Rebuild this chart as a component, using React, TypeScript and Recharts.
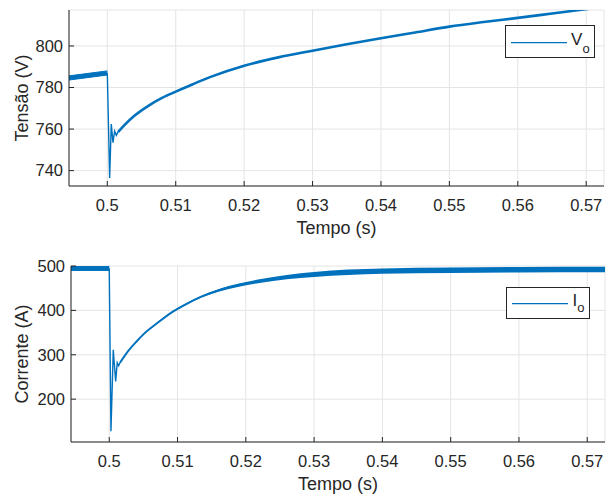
import React from 'react';
import { ComposedChart, Line, Area, XAxis, YAxis, CartesianGrid, Legend } from 'recharts';

const BLUE = '#0072BD';
const AX = '#262626';
const GRID = '#e4e4e4';
const FONT = '"Liberation Sans", Arial, Helvetica, sans-serif';

const timeTicks = [0.5, 0.51, 0.52, 0.53, 0.54, 0.55, 0.56, 0.57];
const timeDomain = [0.4944, 0.5726];
const voltTicks = [740, 760, 780, 800];
const voltDomain = [732.6, 817.3];
const currTicks = [200, 300, 400, 500];
const currDomain = [103.5, 500];

// Output voltage Vo
const voPreTime = [0.4944, 0.5];
const voPreLow = [783.6, 786];
const voPreHigh = [785.6, 788];
const voTransTime = [0.5, 0.50034, 0.50058, 0.50083, 0.50107, 0.50132, 0.50156];
const voTrans = [787, 736.5, 762.4, 753.5, 759, 757, 758.5];
const voRecTime = [0.50156, 0.5025, 0.504, 0.506, 0.508, 0.51, 0.5125, 0.515, 0.52, 0.525, 0.53, 0.535, 0.54, 0.545, 0.55, 0.555, 0.56, 0.565, 0.569, 0.5726];
const voRec = [758.5, 761.9, 766.5, 771.2, 775, 778, 781.6, 785, 790.5, 794.5, 797.7, 800.8, 803.7, 806.5, 809.3, 811.5, 813.5, 815.6, 817.3, 818.8];

// Output current Io
const ioPreTime = [0.4944, 0.5];
const ioPreLow = [490, 490];
const ioPreHigh = [501, 501];
const ioTransTime = [0.5, 0.50025, 0.50059, 0.50094, 0.50117, 0.50138, 0.50157];
const ioTrans = [495, 128, 311, 240, 282, 275, 282];
const ioRecTime = [0.50157, 0.5026, 0.504, 0.505, 0.507, 0.509, 0.511, 0.5135, 0.516, 0.519, 0.522, 0.526, 0.53, 0.535, 0.54, 0.55, 0.56, 0.5726];
const ioRec = [282, 305, 330, 346, 371, 394, 412, 431, 445, 457, 466, 475, 481, 486, 488.5, 490.5, 491.5, 492];
const ioRecLow = [282, 304.7, 329.5, 345.3, 370, 392.7, 410.4, 428.8, 442.2, 453.5, 461.8, 470, 475.5, 480, 482.5, 484.3, 485.2, 485.7];
const ioRecHigh = [282, 305.3, 330.5, 346.7, 372, 395.3, 413.6, 433.2, 447.8, 460.5, 470.2, 480, 486.5, 492, 494.5, 496.7, 497.8, 498.3];

type Series = { key: string; t: number[]; v: (number | number[])[] };
function merge(series: Series[]) {
  const m = new Map<number, any>();
  for (const s of series) {
    s.t.forEach((t, i) => {
      const o = m.get(t) ?? { t };
      o[s.key] = s.v[i];
      m.set(t, o);
    });
  }
  return Array.from(m.values()).sort((a, b) => a.t - b.t);
}

const voData = merge([
  { key: 'pre', t: voPreTime, v: voPreTime.map((_, i) => [voPreLow[i], voPreHigh[i]]) },
  { key: 'trans', t: voTransTime, v: voTrans },
  { key: 'rec', t: voRecTime, v: voRec },
]);

const ioData = merge([
  { key: 'pre', t: ioPreTime, v: ioPreTime.map((_, i) => [ioPreLow[i], ioPreHigh[i]]) },
  { key: 'trans', t: ioTransTime, v: ioTrans },
  { key: 'rec', t: ioRecTime, v: ioRec },
  { key: 'band', t: ioRecTime, v: ioRecTime.map((_, i) => [ioRecLow[i], ioRecHigh[i]]) },
]);

const fmtTime = (v: number) => String(Number(v.toFixed(2)));

const LegendBox = ({ sym, w, h, lineY, symX, symY, subX, subY }: any) => (
  <svg width={w + 1} height={h + 1} style={{ display: 'block' }}>
    <rect x={0.5} y={0.5} width={w} height={h} fill="#fff" stroke={AX} strokeWidth={1} />
    <line x1={6} x2={62} y1={lineY} y2={lineY} stroke={BLUE} strokeWidth={1.2} />
    <text x={symX} y={symY} fontSize={17} fill={AX} fontFamily={FONT}>{sym}</text>
    <text x={subX} y={subY} fontSize={13} fill={AX} fontFamily={FONT}>o</text>
  </svg>
);

const tickStyle = { fill: AX, fontSize: 16.5, fontFamily: FONT };
const titleStyle = { fill: AX, fontSize: 18, fontFamily: FONT };

export default function App() {
  return (
    <div style={{ position: 'absolute', left: 0, top: 0, width: 612, height: 498, background: '#fff' }}>
      <div style={{ position: 'absolute', left: 0, top: 0 }}>
        <ComposedChart width={612} height={242} data={voData} margin={{ top: 10, right: 8, bottom: 16, left: 0 }}>
          <CartesianGrid stroke={GRID} strokeWidth={1} />
          <XAxis dataKey="t" type="number" domain={timeDomain} ticks={timeTicks} interval={0} allowDataOverflow
            height={40} stroke={AX} tickSize={-5} tickMargin={18.6} tick={tickStyle} tickFormatter={fmtTime}
            label={{ value: 'Tempo (s)', position: 'insideBottom', offset: -8, style: titleStyle }} />
          <XAxis xAxisId="top" orientation="top" type="number" domain={timeDomain} ticks={timeTicks} interval={0}
            allowDataOverflow height={0} stroke={AX} tickSize={-5} tick={false} />
          <YAxis type="number" domain={voltDomain} ticks={voltTicks} interval={0} allowDataOverflow width={69}
            stroke={AX} tickSize={-5} tickMargin={11} tick={tickStyle}
            label={{ value: 'Tensão (V)', angle: -90, position: 'insideLeft', offset: 21.5, style: { ...titleStyle, textAnchor: 'middle' } }} />
          <YAxis yAxisId="right" orientation="right" type="number" domain={voltDomain} ticks={voltTicks} interval={0}
            allowDataOverflow width={0} stroke={AX} tickSize={-5} tick={false} />
          <Area dataKey="pre" type="linear" stroke={BLUE} strokeWidth={1} fill={BLUE} fillOpacity={1} connectNulls isAnimationActive={false} dot={false} activeDot={false} />
          <Line dataKey="trans" type="linear" stroke={BLUE} strokeWidth={1.4} connectNulls isAnimationActive={false} dot={false} activeDot={false} />
          <Line dataKey="rec" type="monotone" stroke={BLUE} strokeWidth={2.6} connectNulls isAnimationActive={false} dot={false} activeDot={false} />
          <Legend layout="horizontal" verticalAlign="middle" align="center"
            wrapperStyle={{ position: 'absolute', left: 505, top: 25, width: 'auto', height: 'auto' }}
            content={() => <LegendBox sym="V" w={89} h={32} lineY={17.7} symX={66} symY={20} subX={77.5} subY={27.7} />} />
        </ComposedChart>
      </div>
      <div style={{ position: 'absolute', left: 0, top: 256 }}>
        <ComposedChart width={612} height={242} data={ioData} margin={{ top: 10, right: 7, bottom: 16, left: 0 }}>
          <CartesianGrid stroke={GRID} strokeWidth={1} />
          <XAxis dataKey="t" type="number" domain={timeDomain} ticks={timeTicks} interval={0} allowDataOverflow
            height={40} stroke={AX} tickSize={-5} tickMargin={18.6} tick={tickStyle} tickFormatter={fmtTime}
            label={{ value: 'Tempo (s)', position: 'insideBottom', offset: -8, style: titleStyle }} />
          <XAxis xAxisId="top" orientation="top" type="number" domain={timeDomain} ticks={timeTicks} interval={0}
            allowDataOverflow height={0} stroke={AX} tickSize={-5} tick={false} />
          <YAxis type="number" domain={currDomain} ticks={currTicks} interval={0} allowDataOverflow width={71}
            stroke={AX} tickSize={-5} tickMargin={11} tick={tickStyle}
            label={{ value: 'Corrente (A)', angle: -90, position: 'insideLeft', offset: 21.5, style: { ...titleStyle, textAnchor: 'middle' } }} />
          <YAxis yAxisId="right" orientation="right" type="number" domain={currDomain} ticks={currTicks} interval={0}
            allowDataOverflow width={0} stroke={AX} tickSize={-5} tick={false} />
          <Area dataKey="pre" type="linear" stroke={BLUE} strokeWidth={1} fill={BLUE} fillOpacity={1} connectNulls isAnimationActive={false} dot={false} activeDot={false} />
          <Area dataKey="band" type="monotone" stroke="none" fill={BLUE} fillOpacity={1} connectNulls isAnimationActive={false} dot={false} activeDot={false} />
          <Line dataKey="trans" type="linear" stroke={BLUE} strokeWidth={1.4} connectNulls isAnimationActive={false} dot={false} activeDot={false} />
          <Line dataKey="rec" type="monotone" stroke={BLUE} strokeWidth={2} connectNulls isAnimationActive={false} dot={false} activeDot={false} />
          <Legend layout="horizontal" verticalAlign="middle" align="center"
            wrapperStyle={{ position: 'absolute', left: 506, top: 31.3, width: 'auto', height: 'auto' }}
            content={() => <LegendBox sym="I" w={83} h={31} lineY={16.7} symX={66.5} symY={19.4} subX={71.3} subY={25.3} />} />
        </ComposedChart>
      </div>
    </div>
  );
}
